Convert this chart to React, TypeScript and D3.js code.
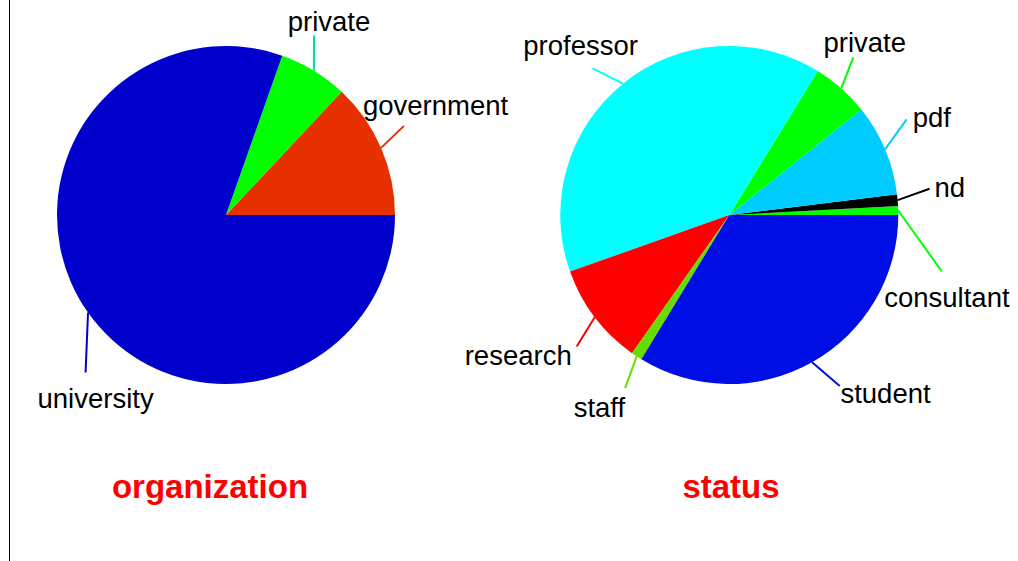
import React from "react";
import * as d3 from "d3";

// ---------- data ----------
const orgCategories = ["government", "private", "university"];
const orgValues = [13.0, 6.6, 80.4];
const orgColors = ["#e63000", "#00ff00", "#0000cc"];
const orgLineColors = ["#e63000", "#00d9a0", "#0000cc"];

const statusCategories = ["consultant", "nd", "pdf", "private", "professor", "research", "staff", "student"];
const statusValues = [0.84, 1.13, 8.75, 5.5, 39.2, 9.8, 1.05, 33.7];
const statusColors = ["#00ff00", "#000000", "#00ccff", "#00ff00", "#00ffff", "#ff0000", "#66dd00", "#000ee6"];

const titles = ["organization", "status"];

// ---------- layout (label placement tweaks) ----------
type LabelLayout = { nudge: number; rEnd: number; anchor: "start" | "middle" | "end"; dx: number; dy: number };
const orgLabelLayout: LabelLayout[] = [
  { nudge: 3.2, rEnd: 199, anchor: "start", dx: -41, dy: -10.5 },
  { nudge: 5.2, rEnd: 200, anchor: "middle", dx: 15, dy: -4.5 },
  { nudge: 13, rEnd: 211, anchor: "middle", dx: 10, dy: 35.5 },
];
const statusLabelLayout: LabelLayout[] = [
  { nudge: -16.4, rEnd: 220, anchor: "middle", dx: 5, dy: 35.5 },
  { nudge: 2.4, rEnd: 202, anchor: "start", dx: 5, dy: 8 },
  { nudge: 5.5, rEnd: 201.5, anchor: "start", dx: 6, dy: 7.5 },
  { nudge: 3.3, rEnd: 200.5, anchor: "middle", dx: 11.5, dy: -5.5 },
  { nudge: 4, rEnd: 200.5, anchor: "middle", dx: -12, dy: -13.3 },
  { nudge: 3.55, rEnd: 201.5, anchor: "end", dx: -5, dy: 18.7 },
  { nudge: 2.2, rEnd: 202, anchor: "end", dx: 0, dy: 29 },
  { nudge: 3.55, rEnd: 203.5, anchor: "start", dx: 0.7, dy: 17.3 },
];

const W = 1018;
const H = 561;
const R = 169;
const FONT = "'Liberation Sans', Arial, Helvetica, sans-serif";

type PieProps = {
  cx: number;
  cy: number;
  categories: string[];
  values: number[];
  colors: string[];
  lineColors: string[];
  layout: LabelLayout[];
  title: string;
  titleX: number;
};

function Pie({ cx, cy, categories, values, colors, lineColors, layout, title, titleX }: PieProps) {
  const pie = d3
    .pie<number>()
    .sort(null)
    .value((d) => d)
    .startAngle(Math.PI / 2)
    .endAngle(Math.PI / 2 - 2 * Math.PI);
  const arcs = pie(values);
  const arc = d3.arc<d3.PieArcDatum<number>>().innerRadius(0).outerRadius(R);
  const pt = (deg: number, r: number) => [cx + r * Math.cos((deg * Math.PI) / 180), cy - r * Math.sin((deg * Math.PI) / 180)];
  return (
    <g>
      <g transform={`translate(${cx},${cy})`}>
        {arcs.map((a, i) => (
          <path key={i} d={arc(a) || ""} fill={colors[i]} />
        ))}
      </g>
      {arcs.map((a, i) => {
        const midD3 = (a.startAngle + a.endAngle) / 2;
        const midDeg = 90 - (midD3 * 180) / Math.PI;
        const L = layout[i];
        const [x0, y0] = pt(midDeg, R);
        const [x1, y1] = pt(midDeg + L.nudge, L.rEnd);
        return (
          <g key={"l" + i}>
            <line x1={x0} y1={y0} x2={x1} y2={y1} stroke={lineColors[i]} strokeWidth={2} />
            <text x={x1 + L.dx} y={y1 + L.dy} textAnchor={L.anchor} fontSize={27.5} fontFamily={FONT} fill="#000">
              {categories[i]}
            </text>
          </g>
        );
      })}
      <text x={titleX} y={498} textAnchor="middle" fontSize={33} fontWeight="bold" fontFamily={FONT} fill="#ff0000">
        {title}
      </text>
    </g>
  );
}

export default function App() {
  return (
    <svg width={W} height={H} style={{ position: "absolute", left: 0, top: 0, background: "#fff" }}>
      <rect x={0} y={0} width={W} height={H} fill="#fff" />
      <line x1={9.5} y1={0} x2={9.5} y2={H} stroke="#000" strokeWidth={1} />
      <Pie
        cx={226}
        cy={215}
        categories={orgCategories}
        values={orgValues}
        colors={orgColors}
        lineColors={orgLineColors}
        layout={orgLabelLayout}
        title={titles[0]}
        titleX={210}
      />
      <Pie
        cx={729.3}
        cy={215}
        categories={statusCategories}
        values={statusValues}
        colors={statusColors}
        lineColors={statusColors}
        layout={statusLabelLayout}
        title={titles[1]}
        titleX={731}
      />
    </svg>
  );
}
